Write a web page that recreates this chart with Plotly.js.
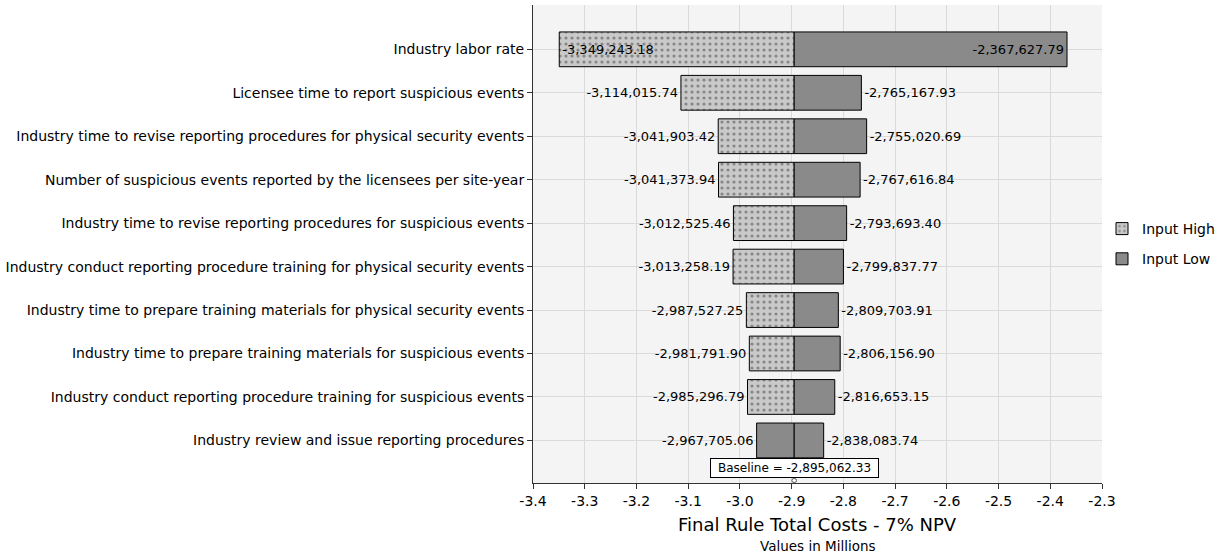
<!DOCTYPE html>
<html>
<head>
<meta charset="utf-8">
<script src="https://cdn.plot.ly/plotly-3.0.1.min.js"></script>
<style>html,body{margin:0;padding:0;background:#fff;}#chart{width:1225px;height:558px;}</style>
</head>
<body>
<div id="chart"></div>
<script>
const categories = [
  "Industry labor rate",
  "Licensee time to report suspicious events",
  "Industry time to revise reporting procedures for physical security events",
  "Number of suspicious events reported by the licensees per site-year",
  "Industry time to revise reporting procedures for suspicious events",
  "Industry conduct reporting procedure training for physical security events",
  "Industry time to prepare training materials for physical security events",
  "Industry time to prepare training materials for suspicious events",
  "Industry conduct reporting procedure training for suspicious events",
  "Industry review and issue reporting procedures"
];
const inputHigh = [-3349243.18, -3114015.74, -3041903.42, -3041373.94, -3012525.46,
                   -3013258.19, -2987527.25, -2981791.90, -2985296.79, -2967705.06];
const inputLow  = [-2367627.79, -2765167.93, -2755020.69, -2767616.84, -2793693.40,
                   -2799837.77, -2809703.91, -2806156.90, -2816653.15, -2838083.74];
const baseline = -2895062.33;
const xTickVals = [-3.4, -3.3, -3.2, -3.1, -3.0, -2.9, -2.8, -2.7, -2.6, -2.5, -2.4, -2.3];
const xTitle = "Final Rule Total Costs - 7% NPV";
const xSubtitle = "Values in Millions";

const fmt = v => v.toLocaleString('en-US', {minimumFractionDigits: 2, maximumFractionDigits: 2});
const M = 1e6;
const base = baseline / M;

const insideFirst = categories.map((c, i) => i === 0 ? 'inside' : 'outside');
const highShapes = categories.map((c, i) => i === categories.length - 1 ? '' : '.');
const highColors = categories.map((c, i) => i === categories.length - 1 ? '#8a8a8a' : '#c9c9c9');

const labelFont = {family: 'DejaVu Sans, sans-serif', size: 13, color: '#000'};

const traceHigh = {
  type: 'bar', orientation: 'h', name: 'Input High', legendgroup: 'h',
  y: categories,
  x: inputHigh.map(v => (v - baseline) / M),
  base: base,
  width: 0.8,
  text: inputHigh.map(fmt),
  textposition: insideFirst,
  insidetextanchor: 'end',
  textfont: labelFont,
  constraintext: 'none',
  cliponaxis: false,
  marker: {
    color: highColors,
    line: {color: '#000', width: 1},
    pattern: {shape: highShapes, fillmode: 'overlay', fgcolor: '#4a4a4a', size: 6, solidity: 0.22}
  },
  hoverinfo: 'skip'
};
const traceLow = {
  type: 'bar', orientation: 'h', name: 'Input Low', legendgroup: 'l',
  y: categories,
  x: inputLow.map(v => (v - baseline) / M),
  base: base,
  width: 0.8,
  text: inputLow.map(fmt),
  textposition: insideFirst,
  insidetextanchor: 'end',
  textfont: labelFont,
  constraintext: 'none',
  cliponaxis: false,
  marker: {color: '#8a8a8a', line: {color: '#000', width: 1}},
  hoverinfo: 'skip'
};

const layout = {
  width: 1225, height: 558,
  margin: {l: 533, r: 119, t: 5, b: 75},
  paper_bgcolor: '#ffffff',
  plot_bgcolor: '#f4f4f4',
  barmode: 'overlay',
  font: {family: 'DejaVu Sans, sans-serif', size: 13, color: '#000'},
  showlegend: true,
  legend: {x: 1.0, xanchor: 'left', y: 0.50, yanchor: 'middle',
           font: {size: 14}, traceorder: 'grouped', bgcolor: 'rgba(0,0,0,0)',
           itemwidth: 30, tracegroupgap: 9},
  xaxis: {
    range: [-3.4, -2.3],
    tickvals: xTickVals,
    ticktext: xTickVals.map(v => v.toFixed(1)),
    ticks: 'outside', ticklen: 5, tickcolor: '#333',
    showline: true, linecolor: '#333', linewidth: 1,
    showgrid: true, gridcolor: '#dadada', gridwidth: 1,
    zeroline: false,
    tickfont: {size: 14}
  },
  yaxis: {
    type: 'category',
    range: [9.98, -1.02],
    ticks: 'outside', ticklen: 5, tickcolor: '#333',
    showline: true, linecolor: '#333', linewidth: 1,
    showgrid: true, gridcolor: '#dadada',
    tickfont: {size: 14},
    automargin: false
  },
  annotations: [{
    xref: 'x', yref: 'paper', x: base, y: 0.032, yanchor: 'middle',
    text: 'Baseline = ' + fmt(baseline),
    showarrow: false, bgcolor: '#ffffff', bordercolor: '#000', borderwidth: 1,
    borderpad: 2, width: 163,
    font: {size: 12}
  }, {
    xref: 'paper', yref: 'paper', x: 0.5, y: -0.086, yanchor: 'middle',
    text: xTitle, showarrow: false, font: {size: 18}
  }, {
    xref: 'paper', yref: 'paper', x: 0.5, y: -0.131, yanchor: 'middle',
    text: xSubtitle, showarrow: false, font: {size: 13.5}
  }],
  shapes: [{
    type: 'circle', xref: 'x', yref: 'paper',
    x0: base - 0.0045, x1: base + 0.0045, y0: 0.001, y1: 0.0095,
    line: {color: '#555', width: 1}, fillcolor: '#ffffff'
  }]
};

Plotly.newPlot('chart', [traceHigh, traceLow], layout, {displayModeBar: false, staticPlot: true});
</script>
</body>
</html>
